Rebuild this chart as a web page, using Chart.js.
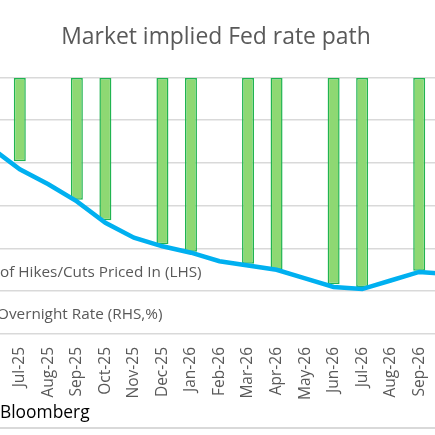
<!DOCTYPE html>
<html>
<head>
<meta charset="utf-8">
<script src="https://cdn.jsdelivr.net/npm/chart.js@4"></script>
<style>
  html, body { margin:0; padding:0; background:#fff; }
  body { width:435px; height:435px; overflow:hidden; position:relative; font-family:"Open Sans", sans-serif; }
  #wrap { position:absolute; left:-63px; top:0; width:558px; height:435px; }
  .lg { position:absolute; color:#595959; font-size:15.3px; white-space:nowrap; line-height:1; }
  #src { position:absolute; left:0; top:403px; font-size:17.4px; color:#000; line-height:1; white-space:nowrap; }
  #rule { position:absolute; left:0; top:427px; width:435px; height:2px; background:#D9D9D9; }
</style>
</head>
<body>
<div id="wrap"><canvas id="c" width="558" height="435"></canvas></div>
<div class="lg" id="lg1" style="left:0px; top:264px;">of Hikes/Cuts Priced In (LHS)</div>
<div class="lg" id="lg2" style="left:-3px; top:306px;">Overnight Rate (RHS,%)</div>
<div id="src">Bloomberg</div>
<div id="rule"></div>
<script>
const months = ["Jun-25","Jul-25","Aug-25","Sep-25","Oct-25","Nov-25","Dec-25","Jan-26","Feb-26","Mar-26","Apr-26","May-26","Jun-26","Jul-26","Aug-26","Sep-26","Oct-26"];
// Cumulative number of hikes(+)/cuts(-) priced in at each FOMC meeting (LHS)
const hikesCutsPriced = [null,-0.98,null,-1.43,-1.67,null,-1.95,-2.04,null,-2.18,-2.25,null,-2.42,-2.45,null,-2.26,null];
// Market implied overnight rate, % (RHS)
const overnightRate = [4.27,4.17,4.10,4.02,3.92,3.85,3.81,3.78,3.74,3.72,3.70,3.66,3.62,3.61,3.65,3.69,3.68];
const lhsTicks = {min:-3, max:0, step:0.5};
const rhsTicks = {min:3.4, max:4.6, step:0.2};

const FONT = "'Open Sans', sans-serif";
new Chart(document.getElementById('c'), {
  data: {
    labels: months,
    datasets: [
      { type:'line', label:'Overnight Rate (RHS,%)', data: overnightRate, yAxisID:'y1',
        borderColor:'#00B0F0', borderWidth:4.5, pointRadius:0, tension:0, order:0, fill:false },
      { type:'bar', label:'No. of Hikes/Cuts Priced In (LHS)', data: hikesCutsPriced, yAxisID:'y',
        backgroundColor:'#8ED873', borderColor:'#20B450', borderWidth:1.5,
        categoryPercentage:1.0, barPercentage:0.42, order:1, borderSkipped:false }
    ]
  },
  options: {
    responsive:false, animation:false,
    layout:{ padding:0 },
    plugins:{
      legend:{ display:false },
      tooltip:{ enabled:false },
      title:{ display:true, text:'Market implied Fed rate path', color:'#595959',
        font:{ family:FONT, size:22.9, weight:'normal', lineHeight:1.2 },
        padding:{ top:23.5, bottom:26.3 } }
    },
    scales:{
      x:{
        grid:{ display:false, drawTicks:false },
        border:{ display:false },
        ticks:{ color:'#595959', font:{ family:FONT, size:15.5 }, minRotation:90, maxRotation:90, padding:13, autoSkip:false },
        afterFit:(s)=>{ s.height = 101; }
      },
      y:{
        position:'left', min:lhsTicks.min, max:lhsTicks.max,
        ticks:{ stepSize:lhsTicks.step, color:'#595959', font:{ family:FONT, size:14 } },
        grid:{ color:'#D9D9D9', lineWidth:1.5, drawTicks:false },
        border:{ display:false },
        afterFit:(s)=>{ s.width = 40; }
      },
      y1:{
        position:'right', min:rhsTicks.min, max:rhsTicks.max,
        ticks:{ stepSize:rhsTicks.step, color:'#595959', font:{ family:FONT, size:14 } },
        grid:{ display:false, drawTicks:false },
        border:{ display:false },
        afterFit:(s)=>{ s.width = 33; }
      }
    }
  }
});
</script>
</body>
</html>
